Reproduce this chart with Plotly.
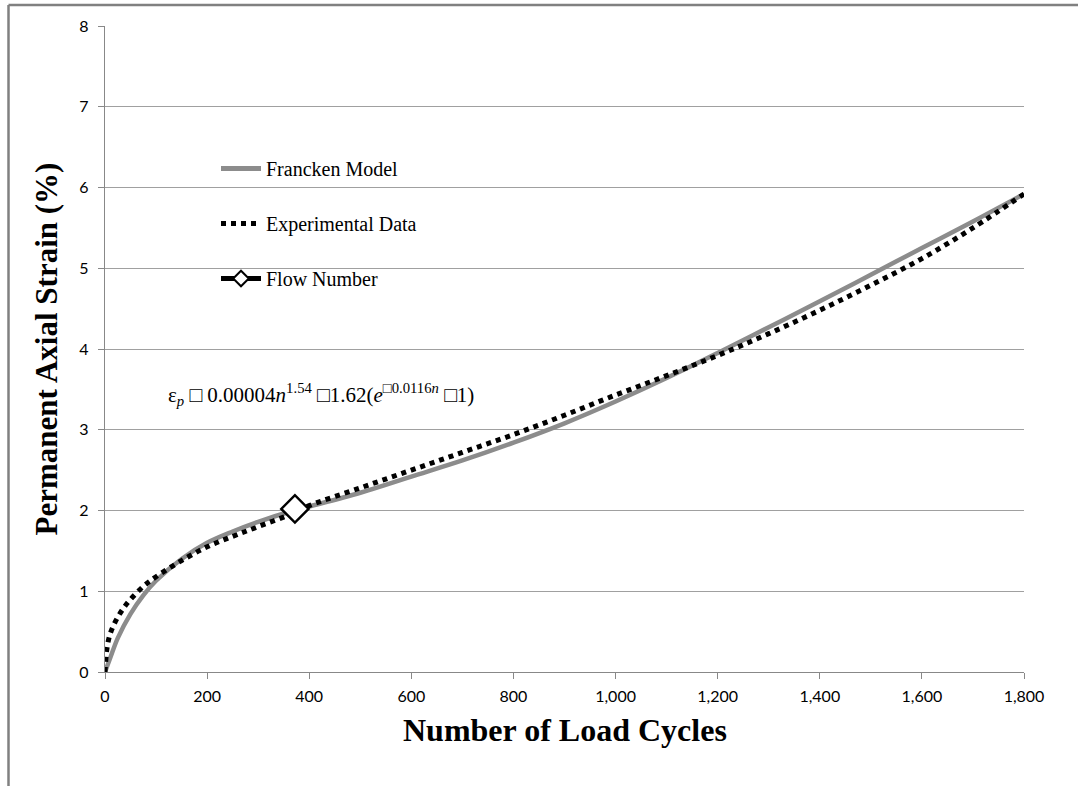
import plotly.graph_objects as go

# Francken model curve
model_n = [0, 10, 25, 50, 75, 100, 150, 200, 250, 300, 370, 400, 500, 600, 700, 800, 900,
           1000, 1100, 1200, 1300, 1400, 1500, 1600, 1700, 1800]
model_eps = [0.0, 0.17, 0.42, 0.72, 0.95, 1.13, 1.40, 1.60, 1.74, 1.86, 2.00, 2.05, 2.22, 2.42,
             2.62, 2.84, 3.08, 3.35, 3.64, 3.95, 4.27, 4.59, 4.92, 5.25, 5.58, 5.92]

exp_n = [0, 3, 6, 10, 20, 35, 50, 75, 100, 150, 200, 250, 300, 370, 400, 500, 600, 700, 800,
         900, 1000, 1100, 1200, 1300, 1400, 1500, 1600, 1700, 1800]
exp_eps = [0.0, 0.25, 0.37, 0.47, 0.62, 0.78, 0.90, 1.06, 1.18, 1.38, 1.55, 1.68, 1.80, 1.97,
           2.06, 2.28, 2.50, 2.72, 2.94, 3.18, 3.43, 3.67, 3.92, 4.19, 4.48, 4.79, 5.12, 5.50, 5.92]

# Flow number point
flow_n = [372]
flow_eps = [2.02]

x_ticks = [0, 200, 400, 600, 800, 1000, 1200, 1400, 1600, 1800]
y_ticks = [0, 1, 2, 3, 4, 5, 6, 7, 8]

fig = go.Figure()
fig.add_trace(go.Scatter(x=model_n, y=model_eps, mode="lines", name="Francken Model",
                         legendgroup="a", line=dict(color="#8c8c8c", width=4.5, shape="spline")))
fig.add_trace(go.Scatter(x=exp_n, y=exp_eps, mode="lines", name="Experimental Data",
                         legendgroup="b", line=dict(color="black", width=5, dash="dot", shape="spline")))
fig.add_trace(go.Scatter(x=flow_n, y=flow_eps, mode="lines+markers", name="Flow Number",
                         legendgroup="c",
                         line=dict(color="black", width=3),
                         marker=dict(symbol="diamond", size=21, color="white",
                                     line=dict(color="black", width=2.5))))

L, R, T, B = 105, 54, 26, 114
W, H = 1078, 786
pw, ph = W - L - R, H - T - B


def px(xp):
    return (xp - L) / pw


def py(yp):
    return (H - B - yp) / ph


fig.add_annotation(
    x=px(166), y=py(395), xref="paper", yref="paper", xanchor="left", yanchor="middle",
    showarrow=False,
    text="ε<sub><i>p</i></sub> □ 0.00004<i>n</i><sup>1.54</sup> □1.62(<i>e</i><sup>□0.0116<i>n</i></sup> □1)",
    font=dict(family="Liberation Serif", size=21, color="black"),
)

# x-axis title
fig.add_annotation(
    x=px(565), y=py(730), xref="paper", yref="paper", xanchor="center", yanchor="middle",
    showarrow=False, text="<b>Number of Load Cycles</b>",
    font=dict(family="Liberation Serif", size=32, color="black"),
)

# outer frame lines (top and left)
fig.add_shape(type="line", xref="paper", yref="paper", x0=px(8.5), x1=px(1090), y0=py(5), y1=py(5),
              line=dict(color="#808080", width=2.5))
fig.add_shape(type="line", xref="paper", yref="paper", x0=px(8.5), x1=px(8.5), y0=py(5), y1=py(800),
              line=dict(color="#808080", width=2.5))

tick_font = dict(family="Lato", size=16, color="black")
fig.update_layout(
    width=W, height=H,
    margin=dict(l=L, r=R, t=T, b=B),
    paper_bgcolor="white", plot_bgcolor="white",
    showlegend=True,
    legend=dict(x=px(216), y=py(149), xanchor="left", yanchor="top",
                font=dict(family="Liberation Serif", size=20, color="black"),
                bgcolor="rgba(0,0,0,0)", tracegroupgap=26, itemsizing="constant",
                itemwidth=40),
    xaxis=dict(range=[0, 1800], tickvals=x_ticks, tickformat=",d", showgrid=False,
               showline=True, linecolor="#888888", linewidth=1.3, ticks="outside",
               ticklen=6, tickcolor="#888888", tickfont=tick_font, zeroline=False,
               ticklabelstandoff=4, automargin=False),
    yaxis=dict(range=[0, 8], tickvals=y_ticks, showgrid=True, gridcolor="#a0a0a0", gridwidth=1.3,
               showline=True, linecolor="#888888", linewidth=1.3, ticks="outside",
               ticklen=6, tickcolor="#888888", tickfont=tick_font, zeroline=False,
               ticklabelstandoff=6, automargin=False,
               title=dict(text="<b>Permanent Axial Strain (%)</b>", standoff=12,
                          font=dict(family="Liberation Serif", size=31, color="black"))),
)

fig.write_html("out.html")
